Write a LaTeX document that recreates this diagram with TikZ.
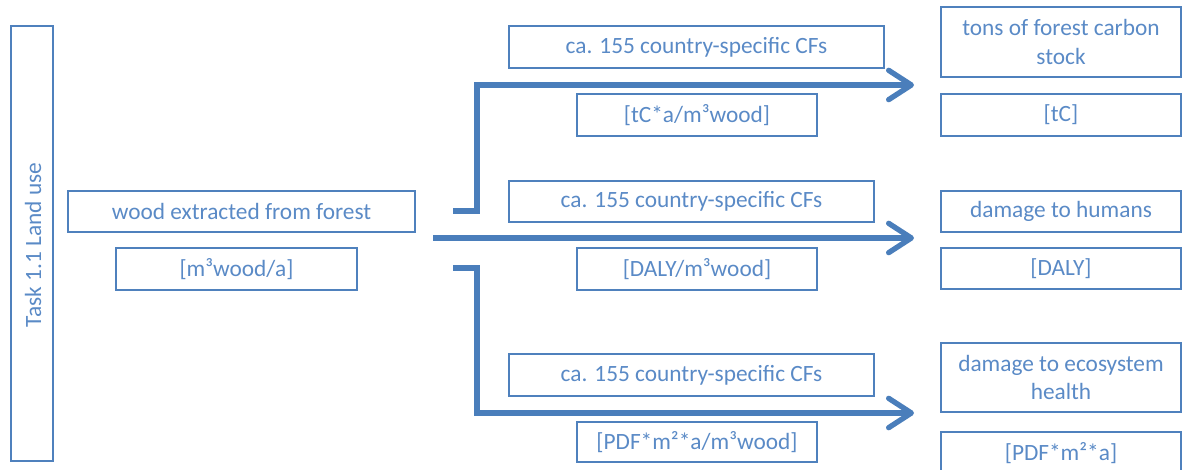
\documentclass[tikz,border=0pt]{standalone}
\usepackage{fontspec}
\setmainfont{Carlito}
\usetikzlibrary{arrows.meta}
\definecolor{boxblue}{HTML}{4F81BD}
\definecolor{txtblue}{HTML}{5A8AC6}
\definecolor{arrblue}{HTML}{4A7EBB}
\tikzset{
  lbl/.style={text=txtblue, font=\fontsize{17.5pt}{21.5pt}\selectfont},
  box/.style={lbl, draw=boxblue, line width=1.5pt, inner sep=0pt,
    align=center, minimum width=240*0.75pt, minimum height=42*0.75pt},
  arr/.style={draw=arrblue, line width=4pt, line join=miter,
    -{Straight Barb[length=17pt, width=22pt, round]}},
}
\begin{document}
\begin{tikzpicture}[x=0.75pt, y=-0.75pt]
\useasboundingbox (0,0) rectangle (1182,470);
% left column
\node[box, minimum width=42*0.75pt, minimum height=435*0.75pt] (task) at (32,243.5) {};
\node[lbl, rotate=90] (tasklbl) at (33,245) {Task 1.1 Land use};
\node[box, minimum width=347*0.75pt, minimum height=41*0.75pt] (wood) at (241.5,211.5) {wood extracted from forest};
\node[box, minimum width=241*0.75pt] (woodu) at (236.5,269) {[m³wood/a]};
% middle column
\node[box, minimum width=375*0.75pt] (cf1) at (696.5,47) {ca. 155 country-specific CFs};
\node[box] (u1) at (697,115) {[tC*a/m³wood]};
\node[box, minimum width=365*0.75pt, minimum height=41*0.75pt] (cf2) at (691.5,201.5) {ca. 155 country-specific CFs};
\node[box] (u2) at (697,269) {[DALY/m³wood]};
\node[box, minimum width=365*0.75pt] (cf3) at (691.5,375) {ca. 155 country-specific CFs};
\node[box, minimum height=40*0.75pt] (u3) at (697,442) {[PDF*m²*a/m³wood]};
% right column
\node[box, minimum height=70*0.75pt] (r1) at (1061,42) {tons of forest carbon\\stock};
\node[box] (r1u) at (1061,115) {[tC]};
\node[box, minimum height=41*0.75pt] (r2) at (1061,211.5) {damage to humans};
\node[box, minimum height=41*0.75pt] (r2u) at (1061,268.5) {[DALY]};
\node[box, minimum height=69*0.75pt] (r3) at (1061,377.5) {damage to ecosystem\\health};
\node[box] (r3u) at (1061,453) {[PDF*m²*a]};
% connectors
\coordinate (s1) at (453,211);
\coordinate (t1) at (914,85);
\coordinate (s2) at (433,238);
\coordinate (t2) at (914,238);
\coordinate (s3) at (453,268);
\coordinate (t3) at (914,413);
\draw[arr] (s1) -- ++(24,0) |- (t1);
\draw[arr] (s2) -- (t2);
\draw[arr] (s3) -- ++(24,0) |- (t3);
\end{tikzpicture}
\end{document}
